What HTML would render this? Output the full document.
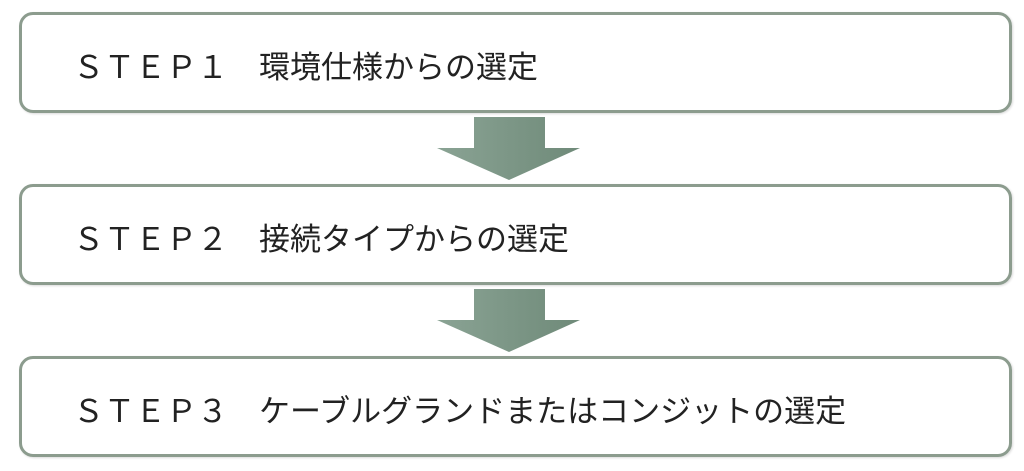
<!DOCTYPE html>
<html><head><meta charset="utf-8"><style>
body{margin:0;width:1024px;height:471px;background:#fff;position:relative;overflow:hidden}
.b{position:absolute;left:19px;width:987px;height:95px;border:3px solid #8c9c8e;border-radius:14px;box-shadow:1px 1px 2px rgba(0,0,0,.15)}
.t{position:absolute;left:73px;font:31px "Liberation Sans","Noto Sans CJK JP",sans-serif;color:#222;white-space:pre;letter-spacing:0px}
svg{position:absolute;left:0;top:0}
</style></head><body>
<div class="b" style="top:12px"></div>
<div class="b" style="top:184px"></div>
<div class="b" style="top:356px"></div>
<div class="t" style="top:42px">ＳＴＥＰ１　環境仕様からの選定</div>
<div class="t" style="top:214px">ＳＴＥＰ２　接続タイプからの選定</div>
<div class="t" style="top:386px">ＳＴＥＰ３　ケーブルグランドまたはコンジットの選定</div>
<svg width="1024" height="471">
<defs><linearGradient id="g" x1="0" x2="1"><stop offset="0" stop-color="#8aa394"/><stop offset="1" stop-color="#6f8a79"/></linearGradient></defs>
<polygon points="474,117 545,117 545,148 580,148 509,180 437,148 474,148" fill="url(#g)"/>
<polygon points="474,289 545,289 545,320 580,320 509,352 437,320 474,320" fill="url(#g)"/>
</svg>
</body></html>
